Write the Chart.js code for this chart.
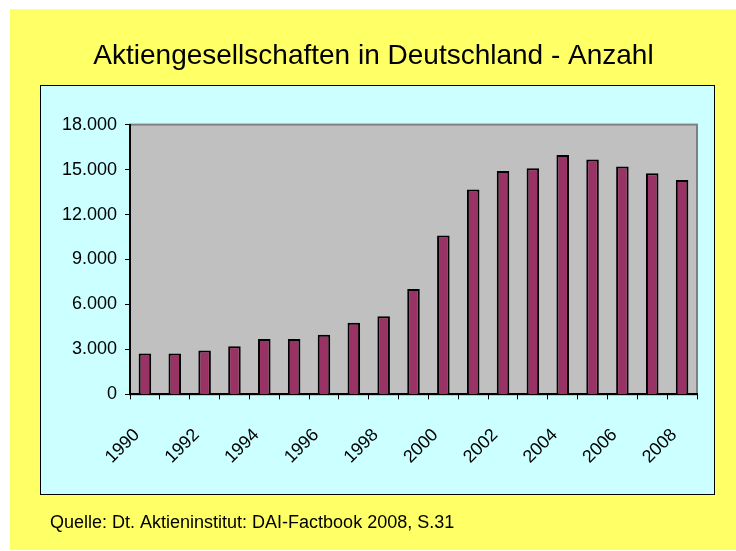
<!DOCTYPE html>
<html>
<head>
<meta charset="utf-8">
<script src="https://cdn.jsdelivr.net/npm/chart.js@4/dist/chart.umd.min.js"></script>
<style>
  html, body { margin: 0; padding: 0; background: #fff; }
  #wrap { width: 736px; height: 551px; }
</style>
</head>
<body>
<div id="wrap"><canvas id="chart" width="736" height="551"></canvas></div>
<script>
// Jahre und Anzahl der Aktiengesellschaften
const years = ['1990', '1991', '1992', '1993', '1994', '1995', '1996', '1997', '1998', '1999',
               '2000', '2001', '2002', '2003', '2004', '2005', '2006', '2007', '2008'];
const counts = [2730, 2730, 2930, 3220, 3690, 3690, 3980, 4780, 5220, 7040,
                10600, 13670, 14910, 15090, 15980, 15670, 15200, 14760, 14310];
const yTicks = [0, 3000, 6000, 9000, 12000, 15000, 18000];

const titleText = 'Aktiengesellschaften in Deutschland - Anzahl';
const sourceText = 'Quelle: Dt. Aktieninstitut: DAI-Factbook 2008, S.31';

// Tausenderpunkt wie im Original
function fmt(v) {
    return String(v).replace(/\B(?=(\d{3})+(?!\d))/g, '.');
}

// Hintergründe: gelb, türkise Fläche, graue Zeichenfläche
const backgrounds = {
    id: 'backgrounds',
    beforeDraw(chart) {
        const ctx = chart.ctx;
        const a = chart.chartArea;
        ctx.save();
        ctx.fillStyle = '#ffff66';
        ctx.fillRect(10, 9, 726, 541);
        ctx.fillStyle = '#ccffff';
        ctx.fillRect(40, 85, 675, 410);
        ctx.strokeStyle = '#000';
        ctx.lineWidth = 1;
        ctx.strokeRect(40.5, 85.5, 674, 409);
        ctx.fillStyle = '#c0c0c0';
        ctx.fillRect(a.left, a.top, a.right - a.left, a.bottom - a.top);
        ctx.strokeStyle = '#808080';
        ctx.lineWidth = 2;
        ctx.strokeRect(a.left, a.top, a.right - a.left, a.bottom - a.top);
        ctx.restore();
    }
};

Chart.defaults.font.family = '"Liberation Sans", Arial, sans-serif';
Chart.defaults.color = '#000';

new Chart(document.getElementById('chart'), {
    type: 'bar',
    data: {
        labels: years,
        datasets: [{
            data: counts,
            backgroundColor: '#993366',
            borderColor: '#000',
            borderWidth: 2,
            categoryPercentage: 1,
            barPercentage: 0.42
        }]
    },
    options: {
        responsive: false,
        animation: false,
        layout: {
            padding: { left: 50, right: 39, top: 39, bottom: 9 }
        },
        plugins: {
            legend: { display: false },
            tooltip: { enabled: false },
            title: {
                display: true,
                text: titleText,
                font: { size: 28, weight: 'normal' },
                color: '#000',
                padding: { top: 0, bottom: 52 }
            },
            subtitle: {
                display: true,
                position: 'bottom',
                align: 'start',
                text: sourceText,
                font: { size: 18, weight: 'normal' },
                color: '#000',
                padding: { top: 0, bottom: 8 }
            }
        },
        scales: {
            x: {
                offset: true,
                grid: {
                    drawOnChartArea: false,
                    drawTicks: true,
                    tickLength: 5,
                    color: '#000',
                    offset: true
                },
                border: { display: true, color: '#000', width: 2 },
                ticks: {
                    autoSkip: false,
                    minRotation: 45,
                    maxRotation: 45,
                    padding: 25,
                    labelOffset: -8,
                    font: { size: 18 },
                    callback: function(v, i) {
                        return i % 2 === 0 ? years[i] : '';
                    }
                },
                afterFit(scale) { scale.height = 118; }
            },
            y: {
                min: 0,
                max: 18000,
                afterBuildTicks(scale) {
                    scale.ticks = yTicks.map(v => ({ value: v }));
                },
                grid: {
                    drawOnChartArea: false,
                    drawTicks: true,
                    tickLength: 5,
                    color: '#000'
                },
                border: { display: true, color: '#000', width: 2 },
                ticks: {
                    padding: 8,
                    font: { size: 18 },
                    callback: v => fmt(v)
                },
                afterFit(scale) { scale.width = 80; }
            }
        }
    },
    plugins: [backgrounds]
});
</script>
</body>
</html>
